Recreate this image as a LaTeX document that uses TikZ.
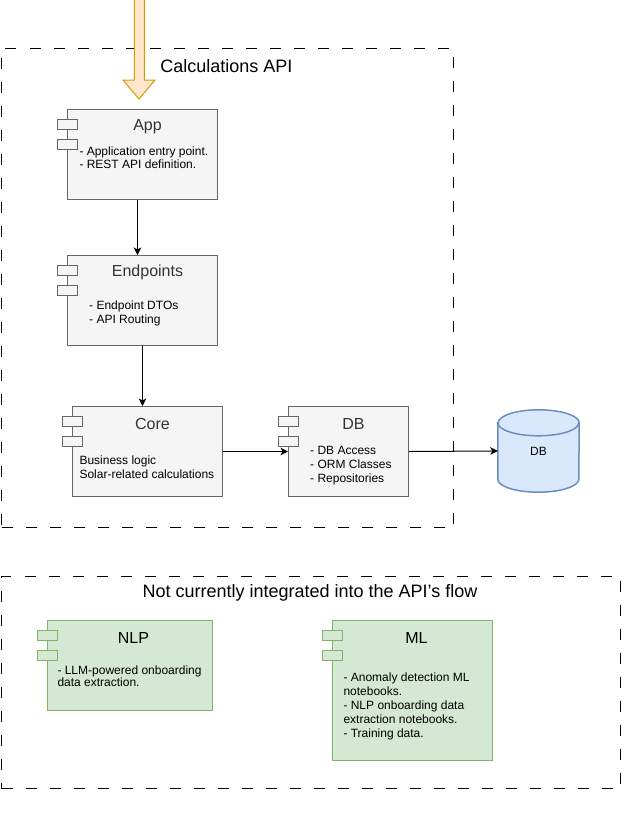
\documentclass[tikz,border=0pt]{standalone}
\usepackage{fontspec}
\setmainfont{Liberation Sans}
\usetikzlibrary{arrows.meta}
\definecolor{greyfill}{HTML}{F5F5F5}
\definecolor{greyline}{HTML}{666666}
\definecolor{greytext}{HTML}{333333}
\definecolor{greenfill}{HTML}{D5E8D4}
\definecolor{greenline}{HTML}{82B366}
\definecolor{bluefill}{HTML}{DAE8FC}
\definecolor{blueline}{HTML}{6C8EBF}
\definecolor{orangefill}{HTML}{FFE6CC}
\definecolor{orangeline}{HTML}{D79B00}
\newcommand{\comptabs}[2]{%
  \draw[#2] ([xshift=-10pt,yshift=-10pt]#1.north west) rectangle ++(20pt,-10pt);
  \draw[#2] ([xshift=-10pt,yshift=-30pt]#1.north west) rectangle ++(20pt,-10pt);}
\begin{document}
\begin{tikzpicture}[x=1pt,y=-1pt,
  groupbox/.style={draw=black, line width=1pt, dash pattern=on 11pt off 13pt},
  grouptitle/.style={font=\fontsize{18}{21}\selectfont, inner sep=0pt},
  compgrey/.style={draw=greyline, fill=greyfill, line width=1pt, inner sep=0pt, anchor=north west},
  compgreen/.style={draw=greenline, fill=greenfill, line width=1pt, inner sep=0pt, anchor=north west},
  tabgrey/.style={draw=greyline, fill=greyfill, line width=1pt},
  tabgreen/.style={draw=greenline, fill=greenfill, line width=1pt},
  titlegrey/.style={font=\fontsize{16}{19}\selectfont, text=greytext, inner sep=0pt},
  titlegreen/.style={font=\fontsize{16}{19}\selectfont, text=black, inner sep=0pt},
  bodytext/.style={font=\fontsize{12}{14}\selectfont, align=left, inner sep=0pt, anchor=north west, text=black},
  flow/.style={draw=black, line width=1pt, -{Stealth[length=7.5pt, width=7.5pt, inset=2pt]}}
]
\useasboundingbox (0,0) rectangle (642,827);

% group boxes
\node[groupbox, minimum width=452pt, minimum height=479pt, anchor=north west, inner sep=0pt] (calcgroup) at (1,48) {};
\node[grouptitle] (calctitle) at (226.5,66) {Calculations API};
\node[groupbox, minimum width=619pt, minimum height=212pt, anchor=north west, inner sep=0pt] (othergroup) at (1,576) {};
\node[grouptitle] (othertitle) at (310,593) {Not currently integrated into the API's flow};

% incoming block arrow
\draw[draw=orangeline, fill=orangefill, line width=1pt, line join=miter]
  (134.3,-3) -- (134.3,80) -- (123,80) -- (139,99) -- (155,80) -- (144.3,80) -- (144.3,-3) -- cycle;

% App
\node[compgrey, minimum width=150pt, minimum height=90pt] (app) at (67,109) {};
\comptabs{app}{tabgrey}
\node[titlegrey] (apptitle) at ([xshift=5pt,yshift=-17.5pt]app.north) {App};
\node[bodytext, font=\fontsize{12}{12.8}\selectfont] (appbody) at (79.3,146.5) {- Application entry point.\\- REST API definition.};

% Endpoints
\node[compgrey, minimum width=150pt, minimum height=90pt] (endp) at (67,255) {};
\comptabs{endp}{tabgrey}
\node[titlegrey] (endptitle) at ([xshift=5pt,yshift=-17.5pt]endp.north) {Endpoints};
\node[bodytext] (endpbody) at (89,300.5) {- Endpoint DTOs\\- API Routing};

% Core
\node[compgrey, minimum width=150pt, minimum height=90pt] (core) at (72,406) {};
\comptabs{core}{tabgrey}
\node[titlegrey] (coretitle) at ([xshift=5pt,yshift=-17.5pt]core.north) {Core};
\node[bodytext] (corebody) at (79.3,455.8) {Business logic\\Solar-related calculations};

% DB component
\node[compgrey, minimum width=120pt, minimum height=90pt] (db) at (288,406) {};
\comptabs{db}{tabgrey}
\node[titlegrey] (dbtitle) at ([xshift=5pt,yshift=-17.5pt]db.north) {DB};
\node[bodytext] (dbbody) at (310,446) {- DB Access\\- ORM Classes\\- Repositories};

% DB cylinder
\node[minimum width=81pt, minimum height=82pt, inner sep=0pt] (dbcyl) at (538.5,451) {};
\draw[draw=blueline, fill=bluefill, line width=1.5pt]
  ([yshift=-13pt]dbcyl.north west) -- ([yshift=13pt]dbcyl.south west)
  arc[start angle=180, end angle=360, x radius=40.5pt, y radius=13pt]
  -- ([yshift=-13pt]dbcyl.north east)
  arc[start angle=0, end angle=180, x radius=40.5pt, y radius=13pt] -- cycle;
\draw[draw=blueline, line width=1.5pt]
  ([yshift=-13pt]dbcyl.north west) arc[start angle=180, end angle=360, x radius=40.5pt, y radius=13pt];
\node[font=\fontsize{12}{14}\selectfont, inner sep=0pt] (dbcyllabel) at (dbcyl.center) {DB};

% NLP
\node[compgreen, minimum width=165pt, minimum height=90pt] (nlp) at (47,620) {};
\comptabs{nlp}{tabgreen}
\node[titlegreen] (nlptitle) at ([xshift=3.5pt,yshift=-18pt]nlp.north) {NLP};
\node[bodytext, font=\fontsize{12}{12.5}\selectfont] (nlpbody) at (57.3,665.5) {- LLM-powered onboarding\\data extraction.};

% ML
\node[compgreen, minimum width=160pt, minimum height=140pt] (ml) at (332,620) {};
\comptabs{ml}{tabgreen}
\node[titlegreen] (mltitle) at ([xshift=4pt,yshift=-17.5pt]ml.north) {ML};
\node[bodytext] (mlbody) at (343.3,673) {- Anomaly detection ML\\notebooks.\\- NLP onboarding data\\extraction notebooks.\\- Training data.};

% connectors
\draw[flow] ([xshift=-5pt]app.south) -- ([xshift=-5pt]endp.north);
\draw[flow] (endp.south) -- (endp.south |- core.north);
\draw[flow] (core.east) -- (db.west);
\draw[flow] (db.east) -- (dbcyl.west);
\end{tikzpicture}
\end{document}
